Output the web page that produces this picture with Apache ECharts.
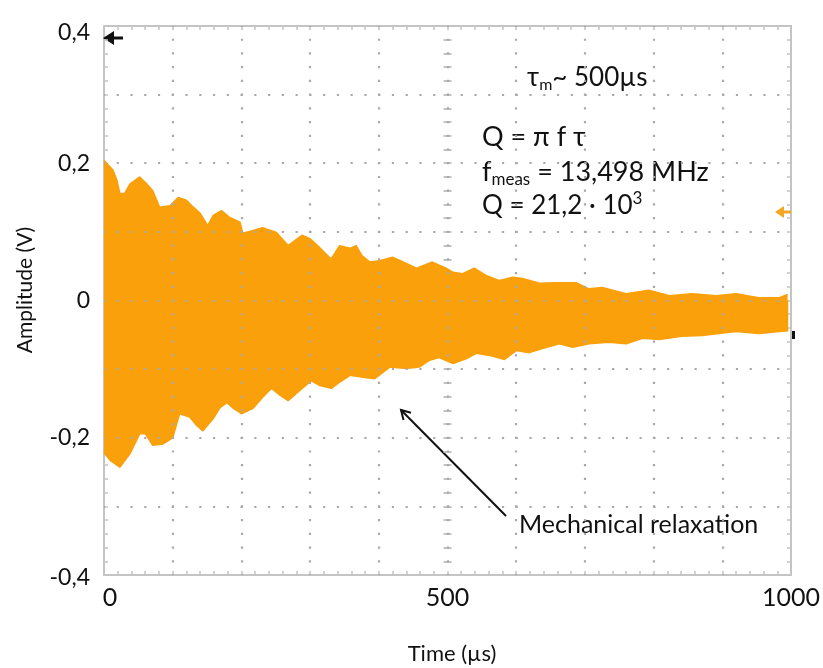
<!DOCTYPE html>
<html>
<head>
<meta charset="utf-8">
<script src="https://cdn.jsdelivr.net/npm/echarts@6/dist/echarts.min.js"></script>
<style>
html,body{margin:0;padding:0;background:#fff;}
#chart{width:823px;height:668px;}
</style>
</head>
<body>
<div id="chart"></div>
<script>
// ---- data ----
const upperT = [0,13,19,23,30,38,52,62,71,81,96,108,120,130,140,151,159,171,183,198,202,217,231,251,268,288,300,314,328,331,343,358,367,375,387,401,420,440,455,478,498,508,522,539,557,576,595,609,634,658,687,706,725,760,793,823,856,891,920,953,983,995];
const upperV = [0.204,0.19,0.175,0.156,0.156,0.17,0.18,0.17,0.16,0.136,0.138,0.15,0.146,0.136,0.127,0.109,0.124,0.131,0.121,0.114,0.098,0.102,0.106,0.099,0.08,0.095,0.09,0.077,0.063,0.061,0.08,0.076,0.08,0.066,0.056,0.058,0.063,0.054,0.047,0.056,0.047,0.041,0.039,0.047,0.036,0.029,0.034,0.032,0.025,0.026,0.026,0.017,0.019,0.010,0.015,0.007,0.010,0.007,0.010,0.004,0.004,0.009];
const lowerT = [0,9,23,38,52,60,71,86,100,110,125,135,144,159,169,179,188,200,217,231,244,256,268,285,302,314,331,340,358,377,394,416,440,459,474,488,508,527,542,561,583,600,619,638,663,682,706,735,760,784,808,841,871,895,920,953,983,996];
const lowerV = [-0.222,-0.233,-0.243,-0.223,-0.194,-0.194,-0.211,-0.209,-0.2,-0.165,-0.17,-0.182,-0.19,-0.172,-0.156,-0.149,-0.157,-0.165,-0.157,-0.141,-0.128,-0.138,-0.146,-0.131,-0.117,-0.124,-0.128,-0.121,-0.109,-0.112,-0.114,-0.097,-0.099,-0.097,-0.087,-0.083,-0.092,-0.085,-0.077,-0.08,-0.086,-0.073,-0.076,-0.07,-0.063,-0.068,-0.063,-0.061,-0.063,-0.055,-0.057,-0.052,-0.051,-0.048,-0.045,-0.048,-0.045,-0.044];
const xTickLabels = [0, 500, 1000];
const yTickLabels = [-0.4, -0.2, 0, 0.2, 0.4];
const xGridLines = [100, 200, 300, 400, 500, 600, 700, 800, 900];
const yGridLines = [-0.3, -0.2, -0.1, 0, 0.1, 0.2, 0.3];

const ORANGE = '#F9A00A';
const GRIDC = '#c4c4c4';
const DOT = '#a9a9a9';
const FONT = 'Lato';
const TXT = '#111';

const chart = echarts.init(document.getElementById('chart'), null, {renderer:'canvas'});

const upperData = upperT.map((t,i)=>[t, upperV[i]]);
const lowerData = lowerT.map((t,i)=>[t, lowerV[i]]);

const tickCommon = {show:true, inside:true, length:4, lineStyle:{color:GRIDC, width:1.5}};
const minorCommon = {show:true, splitNumber:5, length:4, lineStyle:{color:GRIDC, width:1.5}};
const centerTick = {show:true, inside:true, length:4, lineStyle:{color:GRIDC, width:2}};
const centerMinor = {show:true, splitNumber:5, length:4, lineStyle:{color:GRIDC, width:2}};

const option = {
  backgroundColor:'#fff',
  animation:false,
  grid:{left:104, right:31, top:26, bottom:93, show:true, borderColor:GRIDC, borderWidth:2, backgroundColor:'transparent'},
  xAxis:[
    {type:'value', position:'bottom', min:0, max:1000, interval:100,
     axisLine:{show:false, onZero:false},
     axisTick:tickCommon, minorTick:minorCommon,
     splitLine:{show:false},
     axisLabel:{margin:10, fontFamily:FONT, fontSize:25, color:TXT,
       formatter:function(v){ if(xTickLabels.indexOf(v)<0) return ''; return v===0 ? '{z|0}' : String(v); },
       rich:{z:{padding:[0,0,0,12], fontFamily:FONT, fontSize:25, color:TXT}}}
    },
    {type:'value', position:'top', min:0, max:1000, interval:100,
     axisLine:{show:false, onZero:false}, axisTick:tickCommon, minorTick:minorCommon,
     splitLine:{show:false}, axisLabel:{show:false}},
    {type:'value', position:'bottom', min:-500, max:500, interval:100, show:false,
     axisLine:{show:false, onZero:false}}
  ],
  yAxis:[
    {type:'value', position:'left', min:-0.4, max:0.4, interval:0.1,
     axisLine:{show:false, onZero:false},
     axisTick:tickCommon, minorTick:minorCommon,
     splitLine:{show:false},
     axisLabel:{margin:14, fontFamily:FONT, fontSize:23, color:TXT,
       formatter:function(v){
         const r = Math.round(v*10)/10;
         if(!yTickLabels.some(t=>Math.abs(t-r)<1e-9)) return '';
         const s = r===0 ? '0' : r.toFixed(1).replace('.',',');
         if(Math.abs(r-0.4)<1e-9) return '{a|'+s+'}';
         if(Math.abs(r+0.4)<1e-9) return '{b|'+s+'}';
         return s;
       },
       rich:{a:{padding:[14,0,0,0], fontFamily:FONT, fontSize:23, color:TXT},
             b:{padding:[6,0,0,0], fontFamily:FONT, fontSize:23, color:TXT}}}
    },
    {type:'value', position:'right', min:-0.4, max:0.4, interval:0.1,
     axisLine:{show:false, onZero:false}, axisTick:tickCommon, minorTick:minorCommon,
     splitLine:{show:false}, axisLabel:{show:false}},
    {type:'value', position:'left', min:-0.4, max:0.4, interval:0.1,
     axisLine:{show:false, onZero:true, onZeroAxisIndex:2}, axisTick:centerTick, minorTick:centerMinor,
     splitLine:{show:false}, axisLabel:{show:false}},
    {type:'value', position:'right', min:-0.4, max:0.4, interval:0.1,
     axisLine:{show:false, onZero:true, onZeroAxisIndex:2}, axisTick:centerTick, minorTick:centerMinor,
     splitLine:{show:false}, axisLabel:{show:false}}
  ],
  series:[
    {type:'line', name:'upper', data:upperData, xAxisIndex:0, yAxisIndex:0,
     symbol:'none', z:2, lineStyle:{color:ORANGE, width:1.5},
     areaStyle:{color:ORANGE, opacity:1, origin:-0.02}},
    {type:'line', name:'lower', data:lowerData, xAxisIndex:0, yAxisIndex:0,
     symbol:'none', z:2, lineStyle:{color:ORANGE, width:1.5},
     areaStyle:{color:ORANGE, opacity:1, origin:0}},
    {type:'line', name:'gridX', data:[], xAxisIndex:0, yAxisIndex:0, z:10, zlevel:1, silent:true,
     markLine:{silent:true, z:10, symbol:['none','none'], label:{show:false}, animation:false,
       lineStyle:{color:DOT, width:2.2, type:[2.2,11.525], dashOffset:1.1, opacity:1},
       emphasis:{disabled:true},
       data:xGridLines.map(v=>({xAxis:v}))}},
    {type:'line', name:'gridY', data:[], xAxisIndex:0, yAxisIndex:0, z:10, zlevel:1, silent:true,
     markLine:{silent:true, z:10, symbol:['none','none'], label:{show:false}, animation:false,
       lineStyle:{color:DOT, width:2.2, type:[2.2,11.56], dashOffset:1.1, opacity:1},
       emphasis:{disabled:true},
       data:yGridLines.map(v=>({yAxis:v}))}}
  ],
  graphic:[
    {type:'text', x:25, y:290, rotation:Math.PI/2,
     style:{text:'Amplitude (V)', font:'21px Lato', fill:TXT, align:'center', verticalAlign:'middle', textAlign:'center', textVerticalAlign:'middle'}},
    {type:'text', x:452, y:654,
     style:{text:'Time (µs)', font:'22px Lato', fill:TXT, align:'center', verticalAlign:'middle', textAlign:'center', textVerticalAlign:'middle'}},
    {type:'text', x:527, y:78,
     style:{rich:{b:{fontFamily:FONT, fontSize:26, fill:TXT}, s:{fontFamily:FONT, fontSize:16, fill:TXT, padding:[14,0,0,0]}},
       text:'{b|τ}{s|m}{b|~ 500µs}', verticalAlign:'middle', textVerticalAlign:'middle'}},
    {type:'text', x:482, y:137,
     style:{rich:{b:{fontFamily:FONT, fontSize:27, fill:TXT}}, text:'{b|Q = π f τ}', verticalAlign:'middle', textVerticalAlign:'middle'}},
    {type:'text', x:482, y:172,
     style:{rich:{b:{fontFamily:FONT, fontSize:27, fill:TXT}, s:{fontFamily:FONT, fontSize:17, fill:TXT, padding:[16,0,0,0]}},
       text:'{b|f}{s|meas}{b| = 13,498 MHz}', verticalAlign:'middle', textVerticalAlign:'middle'}},
    {type:'text', x:482, y:206,
     style:{rich:{b:{fontFamily:FONT, fontSize:26, fill:TXT}, p:{fontFamily:FONT, fontSize:17, fill:TXT, padding:[0,0,14,0]}},
       text:'{b|Q = 21,2 · 10}{p|3}', verticalAlign:'middle', textVerticalAlign:'middle'}},
    {type:'text', x:519, y:525,
     style:{text:'Mechanical relaxation', font:'25px Lato', fill:TXT, verticalAlign:'middle', textVerticalAlign:'middle'}},
    {type:'line', shape:{x1:506, y1:516, x2:401, y2:410}, style:{stroke:TXT, lineWidth:2}},
    {type:'polyline', shape:{points:[[403.5,420],[401,410],[411,412.7]]}, style:{stroke:TXT, lineWidth:2, fill:null}},
    // oscilloscope markers
    {type:'polygon', shape:{points:[[103,38],[114,31],[114,45]]}, style:{fill:'#111'}},
    {type:'rect', shape:{x:113, y:36.5, width:10, height:3}, style:{fill:'#111'}},
    {type:'polygon', shape:{points:[[775,212],[784,206],[784,218]]}, style:{fill:'#F5A623'}},
    {type:'rect', shape:{x:783, y:210.5, width:8, height:3}, style:{fill:'#F5A623'}},
    {type:'rect', shape:{x:792, y:331, width:3, height:8}, style:{fill:'#111'}}
  ]
};
chart.setOption(option);
</script>
</body>
</html>
